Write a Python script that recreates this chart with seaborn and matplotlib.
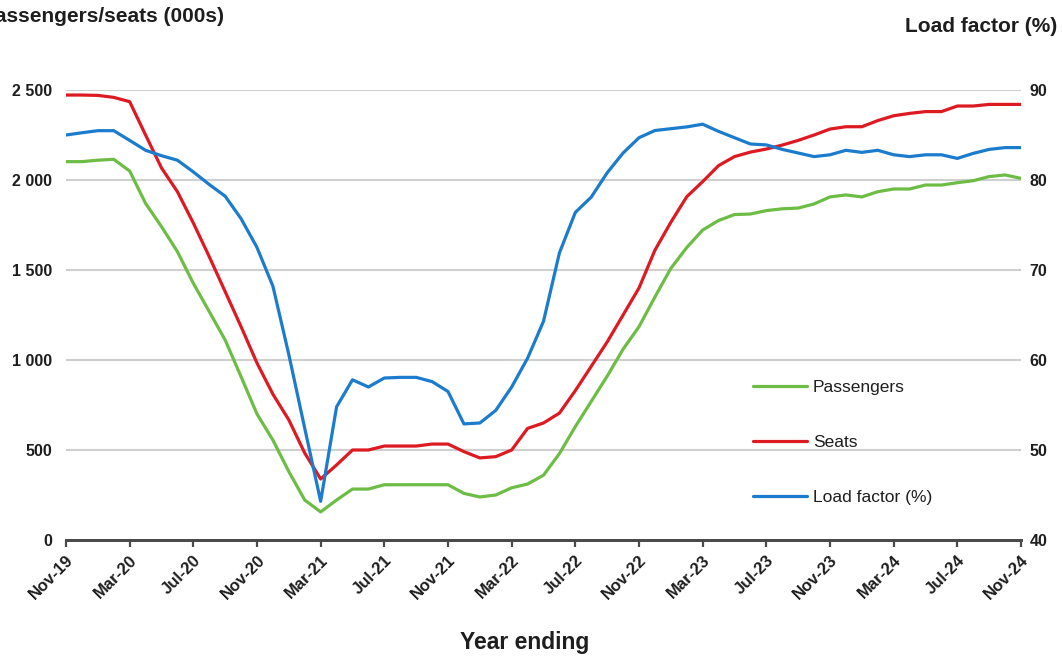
import matplotlib
matplotlib.use("Agg")
import matplotlib.pyplot as plt
import seaborn as sns
import pandas as pd
import numpy as np

# ---- data (monthly, year ending Nov-19 .. Nov-24) ----
months = ["Nov-19","Dec-19","Jan-20","Feb-20","Mar-20","Apr-20","May-20","Jun-20","Jul-20","Aug-20","Sep-20","Oct-20",
          "Nov-20","Dec-20","Jan-21","Feb-21","Mar-21","Apr-21","May-21","Jun-21","Jul-21","Aug-21","Sep-21","Oct-21",
          "Nov-21","Dec-21","Jan-22","Feb-22","Mar-22","Apr-22","May-22","Jun-22","Jul-22","Aug-22","Sep-22","Oct-22",
          "Nov-22","Dec-22","Jan-23","Feb-23","Mar-23","Apr-23","May-23","Jun-23","Jul-23","Aug-23","Sep-23","Oct-23",
          "Nov-23","Dec-23","Jan-24","Feb-24","Mar-24","Apr-24","May-24","Jun-24","Jul-24","Aug-24","Sep-24","Oct-24",
          "Nov-24"]

passengers = [2102, 2102, 2110, 2115, 2050, 1870, 1741, 1602, 1426, 1269, 1111, 907,
              700, 555, 380, 222, 156, 222, 283, 283, 307, 307, 307, 307,
              307, 259, 239, 250, 290, 311, 360, 480, 630, 770, 910, 1060,
              1185, 1350, 1509, 1625, 1722, 1775, 1808, 1811, 1830, 1840, 1844, 1867,
              1906, 1917, 1906, 1935, 1950, 1950, 1972, 1972, 1985, 1996, 2019, 2028,
              2009]

seats = [2472, 2472, 2470, 2459, 2435, 2250, 2067, 1935, 1761, 1574, 1380, 1185,
         983, 810, 667, 483, 339, 417, 500, 500, 522, 522, 522, 533,
         533, 491, 456, 463, 500, 620, 650, 705, 830, 965, 1100, 1250,
         1400, 1610, 1765, 1907, 1991, 2080, 2130, 2155, 2172, 2194, 2220, 2250,
         2283, 2296, 2296, 2330, 2357, 2370, 2380, 2380, 2411, 2411, 2420, 2420,
         2420]

load_factor = [85.0, 85.25, 85.48, 85.48, 84.4, 83.3, 82.7, 82.2, 80.9, 79.5, 78.2, 75.7,
               72.5, 68.2, 60.6, 52.4, 44.3, 54.8, 57.8, 57.0, 58.0, 58.07, 58.07, 57.6,
               56.5, 52.9, 53.0, 54.4, 57.0, 60.2, 64.3, 71.9, 76.4, 78.1, 80.8, 83.0,
               84.7, 85.5, 85.7, 85.9, 86.2, 85.4, 84.7, 84.0, 83.9, 83.4, 83.0, 82.6,
               82.8, 83.3, 83.07, 83.3, 82.8, 82.6, 82.8, 82.8, 82.4, 82.96, 83.4, 83.6,
               83.6]

tick_labels = ["Nov-19","Mar-20","Jul-20","Nov-20","Mar-21","Jul-21","Nov-21","Mar-22",
               "Jul-22","Nov-22","Mar-23","Jul-23","Nov-23","Mar-24","Jul-24","Nov-24"]
left_ticks = [0, 500, 1000, 1500, 2000, 2500]
left_tick_labels = ["0", "500", "1 000", "1 500", "2 000", "2 500"]
right_ticks = [40, 50, 60, 70, 80, 90]

GREEN = "#6dbd45"
RED = "#dd1a22"
BLUE = "#1b7cce"
TXT = "#1e1e1e"

df = pd.DataFrame({"idx": np.arange(len(months)), "month": months,
                   "Passengers": passengers, "Seats": seats, "Load factor (%)": load_factor})

sns.set_style("white")
plt.rcParams["font.family"] = ["Liberation Sans", "DejaVu Sans"]

fig = plt.figure(figsize=(10.62, 6.57), dpi=100)
ax = fig.add_axes([66/1062, 1-540/657, (1021-66)/1062, (540-90)/657])
ax2 = ax.twinx()

sns.lineplot(data=df, x="idx", y="Passengers", ax=ax, color=GREEN, lw=2.3, label="Passengers", legend=False)
sns.lineplot(data=df, x="idx", y="Seats", ax=ax, color=RED, lw=2.3, label="Seats", legend=False)
sns.lineplot(data=df, x="idx", y="Load factor (%)", ax=ax2, color=BLUE, lw=2.3, label="Load factor (%)", legend=False)

ax.set_xlim(0, len(months) - 1)
ax.set_ylim(0, 2500)
ax2.set_ylim(40, 90)

ax.set_yticks(left_ticks)
ax.set_yticklabels(left_tick_labels)
ax2.set_yticks(right_ticks)
ax2.set_yticklabels([str(v) for v in right_ticks])

pos = [months.index(t) for t in tick_labels]
ax.set_xticks(pos)
ax.set_xticklabels(tick_labels, rotation=45, ha="right", rotation_mode="anchor")

ax.grid(axis="y", color="#cfcfcf", lw=1.5)
ax.set_axisbelow(True)
for a in (ax, ax2):
    for s in ("top", "left", "right"):
        a.spines[s].set_visible(False)
    a.spines["bottom"].set_color("#4a4a4a")
    a.spines["bottom"].set_linewidth(2.0)

ax.tick_params(axis="x", which="major", direction="out", length=5, width=1.6, color="#4a4a4a",
               bottom=True, labelsize=12, labelcolor=TXT, pad=4)
ax.tick_params(axis="y", length=0, labelsize=11.5, labelcolor=TXT, pad=10)
ax2.tick_params(axis="y", length=0, labelsize=11.5, labelcolor=TXT, pad=6)
for lab in ax.get_xticklabels() + ax.get_yticklabels() + ax2.get_yticklabels():
    lab.set_fontweight("bold")

ax.set_xlabel("")
ax.set_ylabel("")
ax2.set_ylabel("")

fig.text(-19/1062, 1-16/657, "Passengers/seats (000s)", ha="left", va="center",
         fontsize=15, fontweight="bold", color=TXT)
fig.text(1057/1062, 1-27/657, "Load factor (%)", ha="right", va="center",
         fontsize=15, fontweight="bold", color=TXT)
fig.text(525/1062, 1-643/657, "Year ending", ha="center", va="center",
         fontsize=16.5, fontweight="bold", color=TXT)

h1, l1 = ax.get_legend_handles_labels()
h2, l2 = ax2.get_legend_handles_labels()
leg = ax2.legend(h1 + h2, l1 + l2, loc="upper left", bbox_to_anchor=(753/1062, 1-380/657),
                 bbox_transform=fig.transFigure, frameon=False, fontsize=12.5,
                 labelspacing=2.3, handlelength=3.1, handletextpad=0.35,
                 borderpad=0, borderaxespad=0)
for t in leg.get_texts():
    t.set_color(TXT)

fig.savefig("out.png", dpi=100)
